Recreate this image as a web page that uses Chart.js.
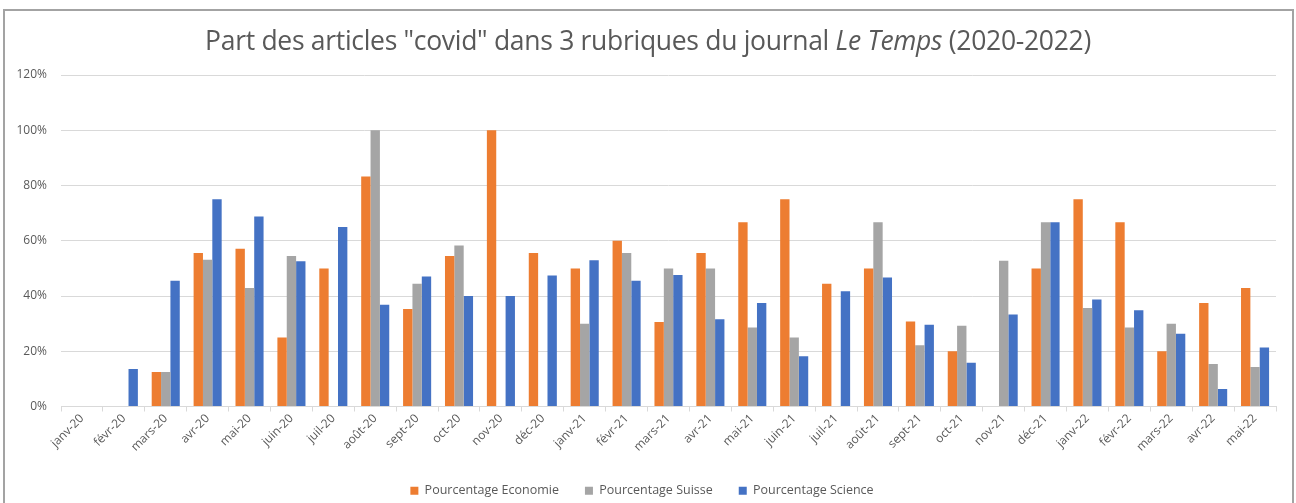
<!DOCTYPE html>
<html lang="fr">
<head>
<meta charset="utf-8">
<title>Part des articles covid - Le Temps</title>
<script src="https://cdn.jsdelivr.net/npm/chart.js@4/dist/chart.umd.min.js"></script>
<style>
  html, body { margin: 0; padding: 0; background: #fff; }
  body { width: 1296px; height: 503px; position: relative; overflow: hidden; }
  #frame {
    position: absolute; left: 3px; top: 9px; width: 1287px; height: 500px;
    border: 2px solid #a3a3a3; box-sizing: content-box;
  }
  #titre {
    position: absolute; left: 0; top: 25px; width: 1296px; text-align: center;
    font-family: "Open Sans", sans-serif; font-weight: 400; font-size: 26.5px;
    color: #595959; margin: 0; letter-spacing: -0.3px; line-height: 1.2;
  }
  #wrap { position: absolute; left: 0; top: 0; width: 1296px; height: 510px; }
</style>
</head>
<body>
<div id="frame"></div>
<div id="wrap"><canvas id="chart"></canvas></div>
<h1 id="titre">Part des articles "covid" dans 3 rubriques du journal <i>Le Temps</i> (2020-2022)</h1>
<script>
// === Données ===
const mois = ['janv-20','févr-20','mars-20','avr-20','mai-20','juin-20','juil-20','août-20','sept-20','oct-20',
  'nov-20','déc-20','janv-21','févr-21','mars-21','avr-21','mai-21','juin-21','juil-21','août-21',
  'sept-21','oct-21','nov-21','déc-21','janv-22','févr-22','mars-22','avr-22','mai-22'];

const economie = [null, null, 12.5, 55.6, 57.1, 25, 50, 83.3, 35.3, 54.5,
  100, 55.6, 50, 60, 30.6, 55.6, 66.7, 75, 44.4, 50,
  30.8, 20, null, 50, 75, 66.7, 20, 37.5, 42.9];

const suisse = [null, null, 12.5, 53.1, 42.9, 54.5, null, 100, 44.4, 58.3,
  null, null, 30, 55.6, 50, 50, 28.6, 25, null, 66.7,
  22.2, 29.2, 52.8, 66.7, 35.7, 28.6, 30, 15.4, 14.3];

const science = [null, 13.6, 45.5, 75, 68.8, 52.6, 65, 36.8, 47.1, 40,
  40, 47.4, 52.9, 45.5, 47.6, 31.6, 37.5, 18.2, 41.7, 46.7,
  29.6, 15.8, 33.3, 66.7, 38.7, 34.8, 26.3, 6.3, 21.4];

const yTicks = [0, 20, 40, 60, 80, 100, 120];

const grisTexte = '#595959';
const grille = '#d9d9d9';

const ctx = document.getElementById('chart').getContext('2d');

new Chart(ctx, {
  type: 'bar',
  data: {
    labels: mois,
    datasets: [
      { label: 'Pourcentage Economie', data: economie, backgroundColor: '#ED7D31' },
      { label: 'Pourcentage Suisse', data: suisse, backgroundColor: '#A5A5A5' },
      { label: 'Pourcentage Science', data: science, backgroundColor: '#4472C4' }
    ]
  },
  options: {
    responsive: true,
    maintainAspectRatio: false,
    animation: false,
    datasets: { bar: { categoryPercentage: 0.67, barPercentage: 1.0 } },
    layout: { padding: { top: 75, left: 8, right: 20, bottom: 3 } },
    scales: {
      x: {
        grid: { display: true, drawOnChartArea: false, drawTicks: true, tickLength: 5, offset: true, color: grille },
        border: { display: true, color: grille, width: 1 },
        ticks: {
          autoSkip: false, maxRotation: 45, minRotation: 45,
          color: grisTexte, font: { family: 'Open Sans', size: 12 }, padding: 0
        },
        afterFit: s => { s.height = 52; }
      },
      y: {
        min: 0, max: 120,
        afterBuildTicks: s => { s.ticks = yTicks.map(v => ({ value: v })); },
        grid: { color: grille, drawTicks: false },
        border: { display: false },
        ticks: {
          color: grisTexte, font: { family: 'Open Sans', size: 12 }, padding: 14,
          callback: v => v + '%'
        },
        afterFit: s => { s.width = 53; }
      }
    },
    plugins: {
      title: { display: false },
      tooltip: { enabled: false },
      legend: {
        position: 'bottom',
        labels: {
          boxWidth: 8, boxHeight: 8, padding: 26, color: grisTexte,
          font: { family: 'Open Sans', size: 12.5 }
        }
      }
    }
  }
});
</script>
</body>
</html>
